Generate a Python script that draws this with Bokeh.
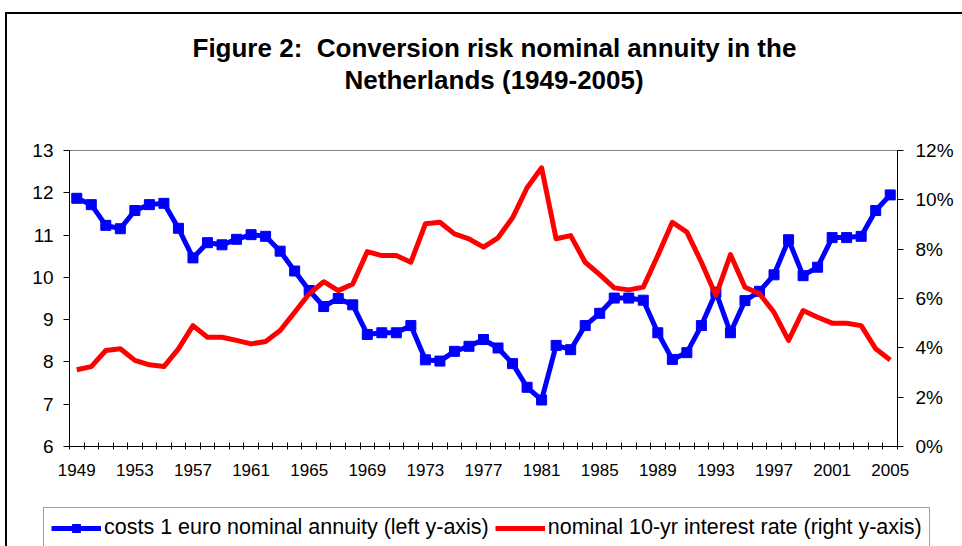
from bokeh.plotting import figure
from bokeh.layouts import column
from bokeh.models import (Range1d, LinearAxis, FixedTicker, PrintfTickFormatter, Legend,
                          LegendItem, Title, ColumnDataSource)
from bokeh.embed import file_html
from bokeh.resources import INLINE

years = list(range(1949, 2006))
annuity_cost = [11.87, 11.72, 11.23, 11.15, 11.58, 11.72, 11.75, 11.16, 10.46, 10.82,
                10.77, 10.90, 11.01, 10.97, 10.62, 10.15, 9.69, 9.31, 9.50, 9.35,
                8.65, 8.69, 8.69, 8.86, 8.05, 8.02, 8.25, 8.37, 8.53, 8.33,
                7.96, 7.40, 7.10, 8.39, 8.29, 8.86, 9.15, 9.51, 9.51, 9.46,
                8.69, 8.06, 8.22, 8.86, 9.65, 8.69, 9.45, 9.67, 10.06, 10.89,
                10.04, 10.24, 10.94, 10.94, 10.97, 11.58, 11.95]
interest_rate = [3.11, 3.24, 3.89, 3.96, 3.49, 3.31, 3.24, 3.96, 4.90, 4.43,
                 4.43, 4.30, 4.16, 4.26, 4.70, 5.44, 6.19, 6.68, 6.32, 6.59,
                 7.90, 7.74, 7.74, 7.47, 9.03, 9.09, 8.62, 8.42, 8.08, 8.46,
                 9.27, 10.49, 11.30, 8.42, 8.55, 7.47, 6.97, 6.43, 6.35, 6.46,
                 7.74, 9.09, 8.69, 7.47, 6.12, 7.78, 6.46, 6.19, 5.44, 4.30,
                 5.51, 5.24, 5.00, 5.00, 4.90, 3.96, 3.51]
year_labels = years[::4]
left_ticks = [6, 7, 8, 9, 10, 11, 12, 13]
right_ticks = [0, 2, 4, 6, 8, 10, 12]
title_lines = ["Figure 2:\u00a0 Conversion risk nominal annuity in the", "Netherlands (1949-2005)"]
legend_labels = ["costs 1 euro nominal annuity (left y-axis)", "nominal 10-yr interest rate (right y-axis)"]

FONT = "Liberation Sans"
BLUE = "#0000FF"
RED = "#FF0000"

src = ColumnDataSource(dict(year=years, cost=annuity_cost, rate=interest_rate))

# ---------------- main chart ----------------
p = figure(width=962, height=500, output_backend="svg", toolbar_location=None, title=None,
           x_range=Range1d(years[0] - 0.5, years[-1] + 0.5),
           y_range=Range1d(left_ticks[0], left_ticks[-1]),
           min_border_left=69, min_border_right=65, min_border_top=150, min_border_bottom=54)
p.extra_y_ranges = {"pct": Range1d(right_ticks[0], right_ticks[-1])}
p.background_fill_color = "white"
p.border_fill_alpha = 0
p.styles = {
    "background": ("linear-gradient(#000, #000) 5px 12px / 2px 100% no-repeat, "
                   "linear-gradient(#000, #000) 5px 12px / 100% 2px no-repeat, #fff"),
}
p.outline_line_color = "#808080"
p.outline_line_width = 1
p.xgrid.visible = False
p.ygrid.visible = False

p.line("year", "cost", source=src, line_color=BLUE, line_width=5, line_join="round")
p.scatter("year", "cost", source=src, marker="square", size=10, fill_color=BLUE, line_color=BLUE)
p.line("year", "rate", source=src, y_range_name="pct", line_color=RED, line_width=5, line_join="round")

# x axis
xa = p.xaxis[0]
xa.ticker = FixedTicker(ticks=year_labels, minor_ticks=[y - 0.5 for y in years] + [years[-1] + 0.5])
xa.major_tick_in = 0
xa.major_tick_out = 0
xa.minor_tick_in = 4
xa.minor_tick_out = 3
xa.minor_tick_line_color = "black"
xa.major_label_standoff = 14
xa.major_label_text_font = FONT
xa.major_label_text_font_size = "17px"
xa.major_label_text_color = "black"
xa.axis_line_color = "black"

# left y axis
ya = p.yaxis[0]
ya.ticker = FixedTicker(ticks=left_ticks)
ya.major_tick_in = 0
ya.major_tick_out = 6
ya.minor_tick_in = 0
ya.minor_tick_out = 0
ya.major_label_standoff = 10
ya.major_label_text_font = FONT
ya.major_label_text_font_size = "19px"
ya.major_label_text_color = "black"
ya.axis_line_color = "black"
ya.major_tick_line_color = "black"

# right y axis
ra = LinearAxis(y_range_name="pct", ticker=FixedTicker(ticks=right_ticks),
                formatter=PrintfTickFormatter(format="%d%%"))
ra.major_tick_in = 0
ra.major_tick_out = 6
ra.minor_tick_in = 0
ra.minor_tick_out = 0
ra.major_label_standoff = 12
ra.major_label_text_font = FONT
ra.major_label_text_font_size = "19px"
ra.major_label_text_color = "black"
ra.axis_line_color = "black"
ra.major_tick_line_color = "black"
p.add_layout(ra, "right")

# title: spacer (closest to plot), second line, first line
p.add_layout(Title(text="\u00a0", text_font_size="1px", standoff=53), "above")
p.add_layout(Title(text=title_lines[1], align="left", offset=275, standoff=0,
                   text_font=FONT, text_font_size="26px", text_font_style="bold",
                   text_color="black"), "above")
p.add_layout(Title(text=title_lines[0], align="left", offset=123, standoff=0,
                   text_font=FONT, text_font_size="26px", text_font_style="bold",
                   text_color="black"), "above")

# ---------------- legend strip ----------------
lg = figure(width=962, height=46, output_backend="svg", toolbar_location=None, title=None,
            x_range=Range1d(0, 1), y_range=Range1d(0, 1), x_axis_type=None, y_axis_type=None,
            min_border=0, min_border_left=0, min_border_right=0,
            min_border_top=0, min_border_bottom=0)
for fig in (p, lg):
    try:
        fig.frame_align = False
    except Exception:
        pass
lg.outline_line_color = None
lg.background_fill_alpha = 0
lg.border_fill_alpha = 0
lg.styles = {"background": "linear-gradient(#000, #000) 5px 0px / 2px 100% no-repeat, #fff"}
# legend swatches use the same data; the strip's ranges keep the marks out of view
l_cost = lg.line("year", "cost", source=src, line_color=BLUE, line_width=5)
s_cost = lg.scatter("year", "cost", source=src, marker="square", size=9, fill_color=BLUE, line_color=BLUE)
l_rate = lg.line("year", "rate", source=src, line_color=RED, line_width=5)

legend = Legend(items=[LegendItem(label=legend_labels[0], renderers=[l_cost, s_cost]),
                       LegendItem(label=legend_labels[1], renderers=[l_rate])],
                orientation="horizontal", location=(43, -2),
                glyph_width=50, glyph_height=20, label_standoff=3, spacing=6,
                padding=7, margin=0,
                label_text_font=FONT, label_text_font_size="21.5px", label_text_color="black",
                border_line_color="#404040", border_line_width=1,
                background_fill_color="white", background_fill_alpha=1)
lg.add_layout(legend)

layout = column(p, lg, spacing=0)
open("out.html", "w").write(file_html(layout, INLINE))
